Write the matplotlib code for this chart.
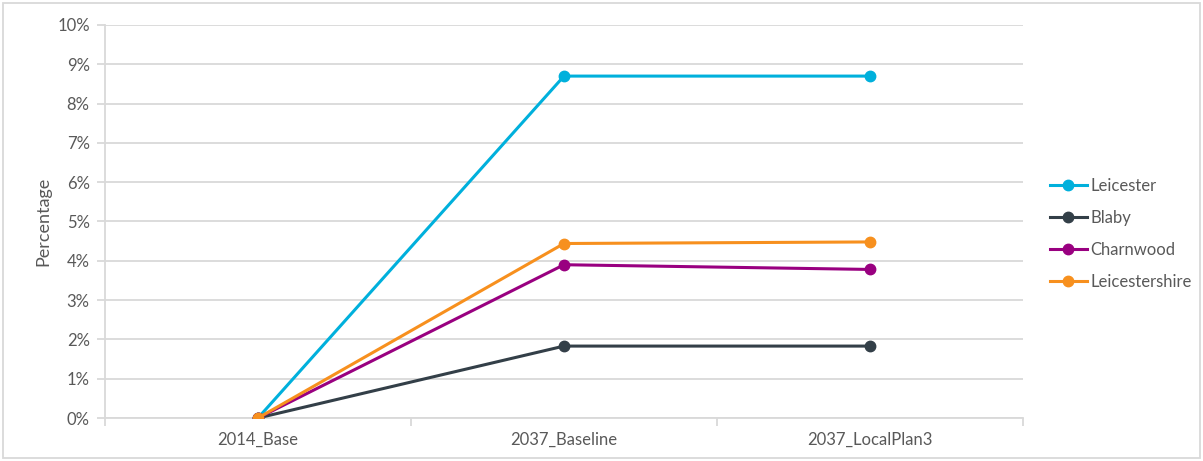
import matplotlib
matplotlib.use("Agg")
import matplotlib.pyplot as plt
from matplotlib.patches import Rectangle
from matplotlib.ticker import FuncFormatter, MultipleLocator

categories = ["2014_Base", "2037_Baseline", "2037_LocalPlan3"]
leicester = [0.0, 8.70, 8.70]
blaby = [0.0, 1.83, 1.83]
charnwood = [0.0, 3.90, 3.78]
leicestershire = [0.0, 4.44, 4.48]

series = [
    ("Leicester", leicester, "#00B0DC"),
    ("Blaby", blaby, "#333F48"),
    ("Charnwood", charnwood, "#990080"),
    ("Leicestershire", leicestershire, "#F7901E"),
]

plt.rcParams['font.family'] = ['Lato', 'DejaVu Sans']
W, H = 1203, 461
fig = plt.figure(figsize=(W/100, H/100), dpi=100)
ax = fig.add_axes([105/W, 1-418/H, (1023-105)/W, (418-25)/H])

x = list(range(len(categories)))
for name, vals, col in series:
    ax.plot(x, vals, color=col, lw=2.2, marker="o", ms=7.5, label=name, zorder=3)

ax.set_xlim(-0.5, 2.5)
ax.set_ylim(0, 10)
ax.yaxis.set_major_locator(MultipleLocator(1))
ax.yaxis.set_major_formatter(FuncFormatter(lambda v, p: f"{int(round(v))}%"))
ax.grid(axis="y", color="#D9D9D9", lw=1.3, zorder=0)
ax.set_axisbelow(True)
for s in ["top", "right"]:
    ax.spines[s].set_visible(False)
ax.spines["left"].set_color("#D9D9D9")
ax.spines["left"].set_linewidth(1.3)
ax.spines["bottom"].set_color("#D9D9D9")
ax.spines["bottom"].set_linewidth(1.3)

ax.set_xticks(x)
ax.set_xticklabels(categories)
ax.set_xticks([-0.5, 0.5, 1.5, 2.5], minor=True)
ax.tick_params(axis="x", which="major", length=0, pad=10, labelsize=12, labelcolor="#595959")
ax.tick_params(axis="x", which="minor", length=6, color="#D9D9D9", width=1.3)
ax.tick_params(axis="y", length=6, color="#D9D9D9", width=1.3, labelsize=12, labelcolor="#595959", pad=5)
ax.set_ylabel("Percentage", fontsize=13, color="#595959", labelpad=4)

leg = fig.legend(loc="center left", bbox_to_anchor=(1035/W, 1-234/H), frameon=False,
                 fontsize=12, labelspacing=0.95, handlelength=2.2, handletextpad=0.2)
for t in leg.get_texts():
    t.set_color("#595959")

fig.patches.append(Rectangle((3/W, 3/H), 1-6/W, 1-6/H, transform=fig.transFigure,
                             fill=False, edgecolor="#D9D9D9", lw=1.3))

fig.savefig("out.png", dpi=100)
